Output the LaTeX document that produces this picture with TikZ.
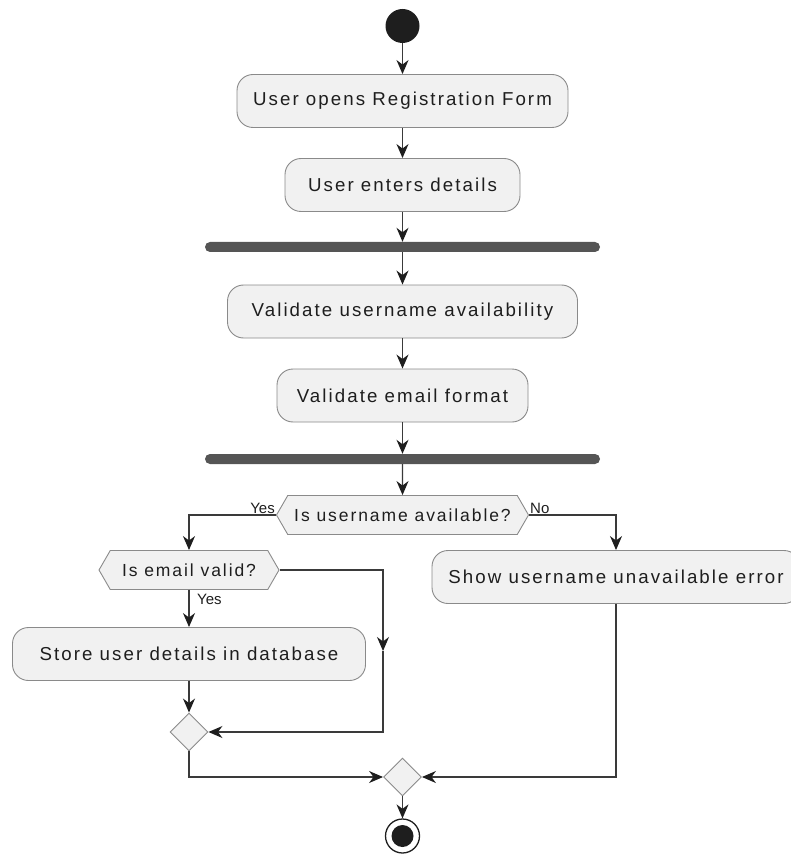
\documentclass[tikz,border=0pt]{standalone}
\usepackage{fontspec}
\setmainfont{Liberation Sans}
\newfontfamily\actfont[LetterSpace=11]{Liberation Sans}
\usetikzlibrary{arrows.meta,shapes.geometric,shapes.symbols}
\definecolor{actfill}{HTML}{F1F1F1}
\definecolor{edgecol}{HTML}{8A8A8A}
\definecolor{linecol}{HTML}{3A3A3A}
\definecolor{barcol}{HTML}{555555}
\definecolor{inkcol}{HTML}{1E1E1E}
\begin{document}
\begin{tikzpicture}[x=1pt,y=-1pt,
  act/.style={rectangle, rounded corners=16pt, draw=edgecol, line width=0.9pt,
    fill=actfill, minimum height=53pt, inner xsep=15pt, text=inkcol,
    font=\actfont\fontsize{18.7}{21}\selectfont},
  decide/.style={signal, signal to=east and west, signal pointer angle=120,
    draw=edgecol, line width=0.9pt, fill=actfill, minimum height=39pt,
    inner xsep=4pt, inner ysep=0pt, text=inkcol,
    font=\actfont\fontsize{17.5}{20}\selectfont},
  merge/.style={diamond, draw=edgecol, line width=0.9pt, fill=actfill,
    minimum width=38pt, minimum height=38pt, inner sep=0pt},
  bar/.style={rectangle, fill=barcol, minimum width=395pt, minimum height=10pt,
    rounded corners=5pt, inner sep=0pt},
  flow/.style={draw=linecol, line width=1.2pt,
    -{Stealth[length=14pt,width=12pt,inset=4.5pt,color=inkcol]}},
  lab/.style={inner sep=1pt, text=inkcol, font=\fontsize{15}{17}\selectfont}
]
\useasboundingbox (0,0) rectangle (790,866);

% start and end
\node[circle, fill=inkcol, minimum size=34pt, inner sep=0pt] (start) at (402.5,26) {};
\node[circle, draw=inkcol, line width=1.3pt, fill=white, minimum size=34pt, inner sep=0pt] (stop) at (402.5,836) {};
\node[circle, fill=inkcol, minimum size=22pt, inner sep=0pt] (stopdot) at (stop.center) {};

% main column
\node[act, minimum width=331pt] (open) at (402.5,101) {User opens Registration Form};
\node[act, minimum width=235pt] (enter) at (402.5,185) {User enters details};
\node[bar] (fork) at (402.5,247) {};
\node[act, minimum width=350pt] (vuser) at (402.5,311.5) {Validate username availability};
\node[act, minimum width=251pt] (vmail) at (402.5,395.5) {Validate email format};
\node[bar] (join) at (402.5,459) {};

% decisions
\node[decide, minimum width=252pt] (avail) at (402.5,515) {Is username available?};
\node[decide, minimum width=180pt] (valid) at (189,570) {Is email valid?};

\node[act, minimum width=353pt] (store) at (189,654) {Store user details in database};
\node[act, minimum width=368pt] (err) at (616,577) {Show username unavailable error};

\node[merge] (m1) at (189,732) {};
\node[merge] (m2) at (402.5,777) {};
\coordinate (bend) at (383,651);

% connectors
\draw[flow] (start) -- (open);
\draw[flow] (open) -- (enter);
\draw[flow] (enter) -- (fork);
\draw[flow] (fork) -- (vuser);
\draw[flow] (vuser) -- (vmail);
\draw[flow] (vmail) -- (join);
\draw[flow] (join) -- (avail);
\draw[flow] (avail.west) -| (valid.north);
\draw[flow] (avail.east) -| (err.north);
\draw[flow] (valid.south) -- (store.north);
\draw[flow] (valid.east) -| (bend);
\draw[flow] (bend) |- (m1.east);
\draw[flow] (store.south) -- (m1.north);
\draw[flow] (m1.south) |- (m2.west);
\draw[flow] (err.south) |- (m2.east);
\draw[flow] (m2.south) -- (stop.north);

% branch labels
\node[lab, anchor=south east] (yes1) at (avail.west) {Yes};
\node[lab, anchor=south west] (no1) at (avail.east) {No};
\node[lab, anchor=north west] (yes2) at ([xshift=7pt,yshift=-3pt]valid.south) {Yes};
\end{tikzpicture}
\end{document}
